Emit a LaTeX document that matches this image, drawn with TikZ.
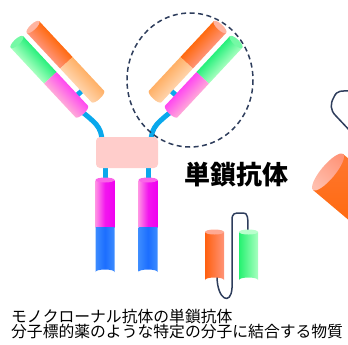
\documentclass[tikz,border=0pt]{standalone}
\usepackage{fontspec}
\newfontfamily\jp{Noto Sans CJK JP}
\definecolor{navy}{HTML}{2E3D5C}
\definecolor{linkblue}{HTML}{0AA8EC}
\definecolor{hingepink}{HTML}{FFCDCB}
\definecolor{orDark}{HTML}{FF6A10}
\definecolor{orSalmon}{HTML}{FF9478}
\definecolor{peachTop}{HTML}{FFB066}
\definecolor{peachBot}{HTML}{FFD4AC}
\definecolor{grTop}{HTML}{28F07C}
\definecolor{grBot}{HTML}{A8FFC0}
\definecolor{pkTop}{HTML}{FF48F0}
\definecolor{pkBot}{HTML}{FFAAD8}
\definecolor{magenta2}{HTML}{F000F0}
\definecolor{pkLight}{HTML}{FF90E4}
\definecolor{fcBlue}{HTML}{1C6EFF}
\definecolor{fcBlueLight}{HTML}{3C8CFF}
\tikzset{
  linker/.style={draw=linkblue, line width=5pt},
  tether/.style={draw=navy, line width=1.5pt, line cap=round},
  ringline/.style={draw=navy, line width=1.5pt, dash pattern=on 5pt off 3.5pt},
}
% one Fab arm, drawn along a local x axis; y runs across the arm
\newcommand\fabarm{%
  \begin{scope}[transform canvas={shift={(33,27)}, rotate=-47}]
    % heavy chain stub between the two chains
    \draw[linker] (80,7) -- (80,15);
    % upper (orange) chain
    \shade[top color=orDark, bottom color=orSalmon] (0,-8.5) rectangle (49,8.5);
    \shade[top color=peachTop, bottom color=peachBot]
      (49,-8.5) -- (95,-8.5) arc[start angle=-90, end angle=90, x radius=3, y radius=8.5] -- (49,8.5) -- cycle;
    \fill[orSalmon!70!white] (0,0) ellipse[x radius=3, y radius=8.5];
    % lower (green / pink) chain
    \shade[top color=grTop, bottom color=grBot] (0,13.5) rectangle (49,30.5);
    \shade[top color=pkTop, bottom color=pkBot]
      (49,13.5) -- (95,13.5) arc[start angle=-90, end angle=90, x radius=3, y radius=8.5] -- (49,30.5) -- cycle;
    \fill[grBot!60!grTop] (0,22) ellipse[x radius=3, y radius=8.5];
  \end{scope}}
% hinge linker of one arm
\newcommand\fablink{%
  \draw[linker] (80,110) .. controls (94,122) and (102,126) .. (102,142);}
% one Fc column
\newcommand\fccol[1]{%
  \draw[linker] (#1,165) -- (#1,181);
  \shade[left color=pkLight, right color=magenta2, middle color=magenta2!85!pkLight]
    (#1-9.5,180) rectangle (#1+9.5,227);
  \shade[left color=fcBlueLight, right color=fcBlueLight, middle color=fcBlue]
    (#1-9.5,227) -- (#1-9.5,272) arc[start angle=180, end angle=360, x radius=9.5, y radius=2.5] -- (#1+9.5,227) -- cycle;
  \fill[pkLight!70!magenta2] (#1,180) ellipse[x radius=9.5, y radius=2.5];}
\begin{document}
\begin{tikzpicture}[x=1pt, y=-1pt]
\useasboundingbox (0,0) rectangle (348,345);
% hinge linkers, left and mirrored right
\fablink
\begin{scope}[transform canvas={shift={(253,0)}, xscale=-1}]
  \fablink
\end{scope}
% Fc part
\fccol{105}
\fccol{148}
% hinge block
\fill[hingepink, rounded corners=4pt] (96,137) rectangle (158,168);
% Fab arms
\fabarm
\begin{scope}[transform canvas={shift={(253,0)}, xscale=-1}]
  \fabarm
\end{scope}
% dashed ring around the right Fab
\draw[ringline] (190,80) ellipse[x radius=63, y radius=67];
% single-chain antibody: two domains joined by a tether
\draw[tether] (217,276) .. controls (217,300) and (231,306) .. (232,288)
  -- (232,220) .. controls (232,213) and (235,213) .. (240,213) -- (243,213)
  .. controls (248,213) and (248,216) .. (248,234);
\shade[left color=orDark!90!red, right color=orSalmon]
  (205,232) -- (205,280) arc[start angle=180, end angle=360, x radius=9.5, y radius=2.5] -- (224,232) -- cycle;
\fill[orSalmon!80!white] (214.5,232) ellipse[x radius=9.5, y radius=2.5];
\shade[left color=grTop!90!green, right color=grBot]
  (239,232) -- (239,280) arc[start angle=180, end angle=360, x radius=9.5, y radius=2.5] -- (258,232) -- cycle;
\fill[grBot!80!white] (248.5,232) ellipse[x radius=9.5, y radius=2.5];
% partial shapes on the right edge
\begin{scope}
  \clip (0,0) rectangle (348,345);
  \draw[tether] (352,91) .. controls (341,91) and (337,90) .. (334,97)
    .. controls (330,104) and (330,110) .. (336,116) -- (352,133);
  \shade[top color=orDark!70!orSalmon, bottom color=orDark]
    (343,154) -- (381,186) -- (351,222) -- (313,190) -- cycle;
  \shade[left color=orSalmon!60!white, right color=orSalmon, shading angle=140]
    (328,172) ellipse[x radius=23.4, y radius=7, rotate=50];
\end{scope}
% labels
\node[font=\jp\bfseries\fontsize{26}{30}\selectfont, inner sep=0pt] (title) at (236,175) {単鎖抗体};
\node[font=\jp\fontsize{15.8}{15.3}\selectfont, align=left, anchor=base west, inner sep=0pt] (caption) at (11,337.5)
  {モノクローナル抗体の単鎖抗体\\分子標的薬のような特定の分子に結合する物質};
\end{tikzpicture}
\end{document}
